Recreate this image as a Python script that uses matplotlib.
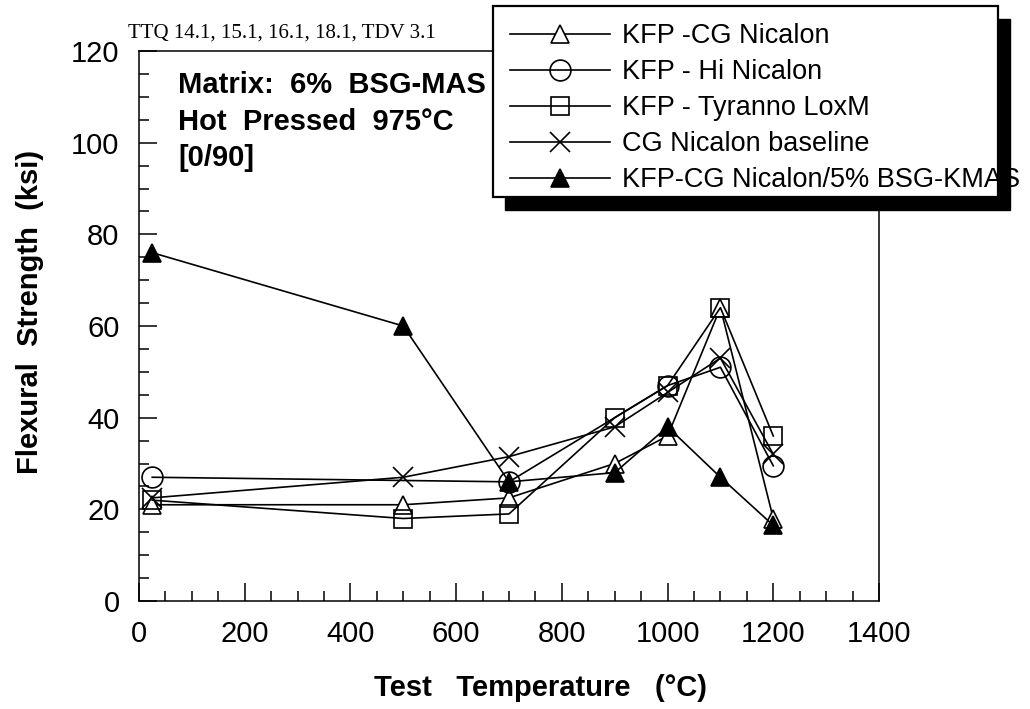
import matplotlib.pyplot as plt
from matplotlib.patches import Rectangle
from matplotlib.ticker import MultipleLocator

temps = [25, 500, 700, 900, 1000, 1100, 1200]
temps_hi = [25, 700, 1000, 1100, 1200]

cg_nicalon = [21, 21, 22.5, 30, 36, 64, 18]
hi_nicalon = [27, 26, 47, 51, 29.5]
tyranno = [22, 18, 19, 40, 47, 64, 36]
baseline = [22.5, 27, 31.5, 38, 45.5, 53, 32]
kmas = [76, 60, 26, 28, 38, 27, 16.5]

labels = ['KFP -CG Nicalon', 'KFP - Hi Nicalon', 'KFP - Tyranno LoxM',
          'CG Nicalon baseline', 'KFP-CG Nicalon/5% BSG-KMAS']

plt.rcParams['font.family'] = ['Liberation Sans', 'DejaVu Sans']

W, H = 1030, 709
fig = plt.figure(figsize=(W / 100, H / 100), dpi=100)
ax = fig.add_axes([139 / W, 1 - 601 / H, 740 / W, 550 / H])

kw = dict(color='black', lw=1.2, mew=1.2)
ax.plot(temps, cg_nicalon, marker='^', ms=13, mfc='white', label=labels[0], **kw)
ax.plot(temps_hi, hi_nicalon, marker='o', ms=15, mfc='none', label=labels[1], **kw)
ax.plot(temps, tyranno, marker='s', ms=13, mfc='none', label=labels[2], **kw)
ax.plot(temps, baseline, marker='x', ms=14, label=labels[3], **kw)
ax.plot(temps, kmas, marker='^', ms=13, mfc='black', label=labels[4], **kw)

ax.set_xlim(0, 1400)
ax.set_ylim(0, 120)
ax.xaxis.set_major_locator(MultipleLocator(200))
ax.xaxis.set_minor_locator(MultipleLocator(50))
ax.yaxis.set_major_locator(MultipleLocator(20))
ax.yaxis.set_minor_locator(MultipleLocator(5))
ax.tick_params(which='both', direction='in', top=False, right=False, width=1.1)
ax.tick_params(which='major', length=13, labelsize=21)
ax.tick_params(axis='y', which='major', pad=14)
ax.tick_params(axis='x', which='major', pad=14)
ax.tick_params(which='minor', length=7)
for s in ax.spines.values():
    s.set_linewidth(1.1)

# axis titles
fig.text(540 / W, 1 - 688 / H, 'Test   Temperature   (°C)', fontsize=21,
         fontweight='bold', ha='center', va='center')
fig.text(30 / W, 1 - 312 / H, 'Flexural  Strength  (ksi)', fontsize=21,
         fontweight='bold', ha='center', va='center', rotation=90)

# matrix note
note = ['Matrix:  6%  BSG-MAS', 'Hot  Pressed  975°C', '[0/90]']
for line, yb in zip(note, [93, 130, 166]):
    fig.text(178 / W, 1 - yb / H, line, fontsize=21, fontweight='bold',
             va='baseline')

fig.text(128 / W, 1 - 38 / H, 'TTQ 14.1, 15.1, 16.1, 18.1, TDV 3.1',
         family='Liberation Serif', fontsize=15, va='baseline')

# legend box with heavy drop shadow
bx0, bx1, by0, by1 = 493, 998, 6, 197
fig.add_artist(Rectangle(((bx0 + 12) / W, 1 - (by1 + 13) / H), (bx1 - bx0) / W,
                         (by1 - by0) / H, transform=fig.transFigure,
                         facecolor='black', edgecolor='black', zorder=3))
fig.add_artist(Rectangle((bx0 / W, 1 - by1 / H), (bx1 - bx0) / W,
                         (by1 - by0) / H, transform=fig.transFigure,
                         facecolor='white', edgecolor='black', lw=1.6, zorder=4))

fig.legend(loc='upper left', bbox_to_anchor=(510 / W, 1 - 23 / H), fontsize=19.5,
           handlelength=3.7, frameon=False, borderpad=0, borderaxespad=0,
           labelspacing=0.37, handletextpad=0.44).set_zorder(5)

fig.savefig('out.png', dpi=100)
